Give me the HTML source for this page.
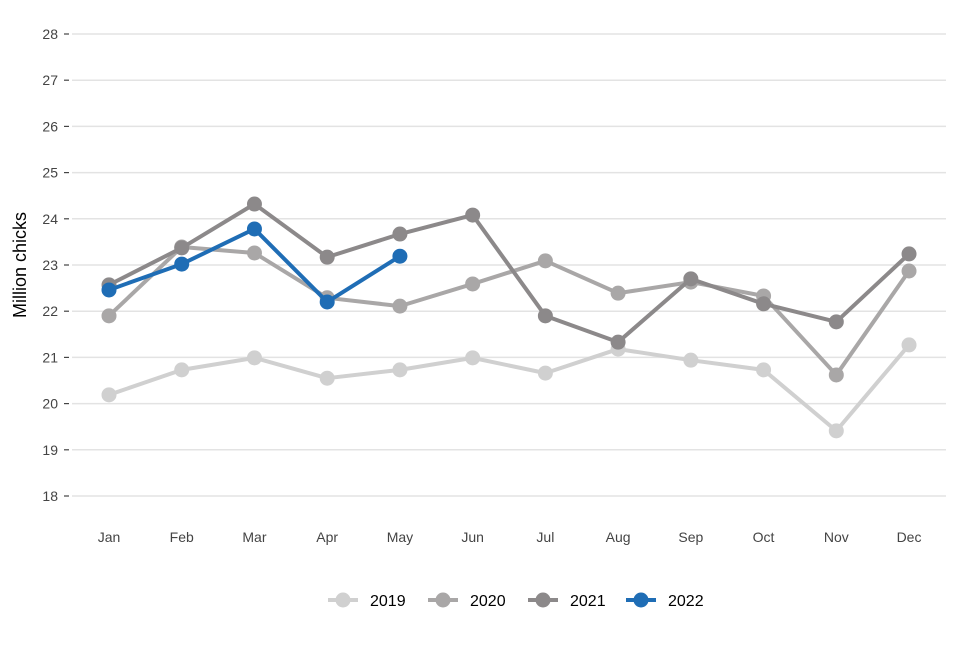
<!DOCTYPE html>
<html><head><meta charset="utf-8"><style>
body{margin:0;background:#fff;font-family:"Liberation Sans",Arial,sans-serif}
</style></head><body>
<svg id="chart" width="960" height="640" xmlns="http://www.w3.org/2000/svg"></svg>
<script>
const months=["Jan","Feb","Mar","Apr","May","Jun","Jul","Aug","Sep","Oct","Nov","Dec"];
const yTicks=[18,19,20,21,22,23,24,25,26,27,28];
const s2019=[20.19,20.73,20.99,20.55,20.73,20.99,20.66,21.18,20.94,20.73,19.41,21.27];
const s2020=[21.9,23.39,23.26,22.29,22.11,22.59,23.09,22.39,22.63,22.33,20.62,22.87];
const s2021=[22.57,23.37,24.32,23.17,23.67,24.08,21.9,21.33,22.7,22.16,21.77,23.24];
const s2022=[22.46,23.02,23.78,22.2,23.19];
const seriesNames=["2019","2020","2021","2022"];
const NS="http://www.w3.org/2000/svg";
const svg=document.getElementById('chart');
function x(i){return 109+i*72.73;}
function y(v){return 496-(v-18)*46.2;}
function mk(t,a){const e=document.createElementNS(NS,t);for(const k in a)e.setAttribute(k,a[k]);svg.appendChild(e);return e;}
yTicks.forEach(v=>{
  const g=mk('line',{x1:72,x2:946,y1:y(v),y2:y(v),stroke:'#e3e3e3','stroke-width':1.5});
  
  
  const tk=mk('line',{x1:64,x2:69,y1:y(v),y2:y(v),stroke:'#444','stroke-width':1.2});
  
  
  const t=mk('text',{x:58,y:y(v)+5,'text-anchor':'end','font-size':14,fill:'#444'});
  t.textContent=v;
  
  
});
months.forEach((m,i)=>{
  const t=mk('text',{x:x(i),y:542,'text-anchor':'middle','font-size':14,fill:'#444'});
  t.textContent=m;
  
  
});
const yt=mk('text',{x:0,y:0,transform:'translate(26,265) rotate(-90)','text-anchor':'middle','font-size':18,fill:'#000'});
yt.textContent='Million chicks';


const all=[s2019,s2020,s2021,s2022];
const cols=['#d0d0d0','#a9a7a7','#8c898a','#1f6db5'];
all.forEach((s,k)=>{
  const p=mk('polyline',{points:s.map((v,i)=>x(i)+','+y(v)).join(' '),fill:'none',stroke:cols[k],'stroke-width':4,'stroke-linejoin':'round'});
  
  
  s.forEach((v,i)=>{
    const c=mk('circle',{cx:x(i),cy:y(v),r:7.5,fill:cols[k]});
    
    
  });
});
const lx=[328,428,528,626];
seriesNames.forEach((n,k)=>{
  const l=mk('line',{x1:lx[k],x2:lx[k]+30,y1:600,y2:600,stroke:cols[k],'stroke-width':4});
  
  
  const c=mk('circle',{cx:lx[k]+15,cy:600,r:7.5,fill:cols[k]});
  
  
  const t=mk('text',{x:lx[k]+42,y:606,'font-size':16,fill:'#000'});
  t.textContent=n;
  
  
});
</script>
</body></html>
